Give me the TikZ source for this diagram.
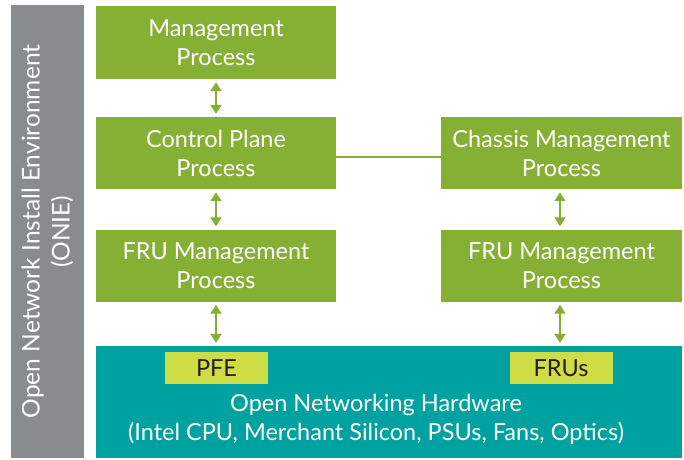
\documentclass[tikz,border=0pt]{standalone}
\usepackage{fontspec}
\setmainfont{Lato}
\usepackage{tikz}
\usepackage{xcolor}
\usetikzlibrary{arrows.meta, positioning}

\definecolor{procgreen}{RGB}{133,176,52}
\definecolor{hwteal}{RGB}{0,161,161}
\definecolor{oniegray}{RGB}{137,140,142}
\definecolor{chipyellow}{RGB}{205,221,69}
\definecolor{chiptext}{RGB}{35,31,32}

\begin{document}
\begin{tikzpicture}[
    x=1pt, y=-1pt,
    proc/.style={rectangle, fill=procgreen, text=white, minimum height=73pt, align=center, inner sep=0pt, font=\fontsize{23.5}{29}\selectfont},
    chip/.style={rectangle, fill=chipyellow, text=chiptext, minimum width=103pt, minimum height=32pt, inner sep=0pt, font=\fontsize{23.5}{26}\selectfont},
    link/.style={{Triangle[length=9pt,width=11pt]}-{Triangle[length=9pt,width=11pt]}, line width=2.5pt, draw=procgreen, shorten >=3pt, shorten <=3pt},
    wire/.style={line width=2pt, draw=procgreen}
]
    \useasboundingbox (0,0) rectangle (684,459);

    % Frame
    \node[rectangle, fill=oniegray, minimum width=73pt, minimum height=453pt, inner sep=0pt] (onie) at (47.5,231.5) {};
    \node[rotate=90, text=white, align=center, font=\fontsize{24.5}{30}\selectfont] (onielabel) at (onie.center) {Open Network Install Environment\\(ONIE)};

    % Processes
    \node[proc, minimum width=240pt] (mgmt) at (216,42.5) {Management\\Process};
    \node[proc, minimum width=240pt, minimum height=72pt] (ctrl) at (216,153) {Control Plane\\Process};
    \node[proc, minimum width=240pt, minimum height=72pt] (frul) at (216,265.5) {FRU Management\\Process};
    \node[proc, minimum width=241pt, minimum height=72pt] (chassis) at (561.5,153) {Chassis Management\\Process};
    \node[proc, minimum width=241pt, minimum height=72pt] (frur) at (561.5,265.5) {FRU Management\\Process};

    % Hardware
    \node[rectangle, fill=hwteal, minimum width=586pt, minimum height=112pt, inner sep=0pt] (hw) at (389,402) {};
    \node[text=white, align=center, font=\fontsize{23.5}{29}\selectfont] (hwlabel) at (376,419.5) {Open Networking Hardware\\(Intel CPU, Merchant Silicon, PSUs, Fans, Optics)};
    \node[chip] (pfe) at (216.5,368) {PFE};
    \node[chip] (frus) at (561,368) {FRUs};

    % Connections
    \draw[link] (mgmt.south) -- (ctrl.north);
    \draw[link] (ctrl.south) -- (frul.north);
    \draw[link] ([xshift=-1.5pt]chassis.south) -- ([xshift=-1.5pt]frur.north);
    \draw[link] (frul.south) -- (frul.south |- hw.north);
    \draw[link] ([xshift=-1.5pt]frur.south) -- ([xshift=-1.5pt]frur.south |- hw.north);
    \draw[wire] ([yshift=-4pt]ctrl.east) -- ([yshift=-4pt]chassis.west);
\end{tikzpicture}
\end{document}
